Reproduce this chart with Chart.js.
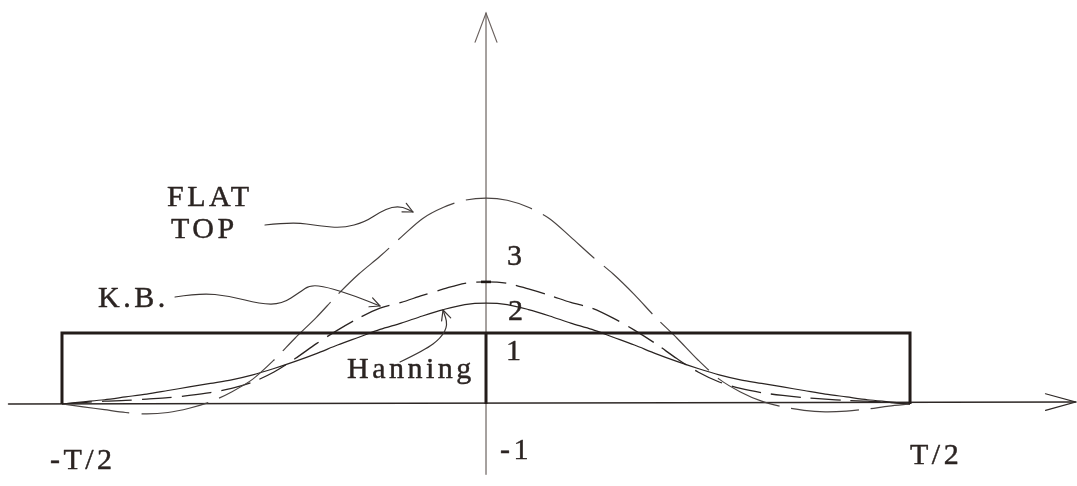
<!DOCTYPE html>
<html>
<head>
<meta charset="utf-8">
<title>Window functions</title>
<script src="https://cdn.jsdelivr.net/npm/chart.js@4"></script>
<style>
  html, body { margin: 0; padding: 0; background: #fff; }
  canvas { display: block; }
</style>
</head>
<body>
<canvas id="chart" width="1077" height="486"></canvas>
<script>
// time, in units of the window length T (window runs from -T/2 to T/2)
const tGrid = [-0.5, -0.475, -0.45, -0.425, -0.4, -0.375, -0.35, -0.325, -0.3, -0.275,
  -0.25, -0.225, -0.2, -0.175, -0.15, -0.125, -0.1, -0.075, -0.05, -0.025, 0,
  0.025, 0.05, 0.075, 0.1, 0.125, 0.15, 0.175, 0.2, 0.225, 0.25,
  0.275, 0.3, 0.325, 0.35, 0.375, 0.4, 0.425, 0.45, 0.475, 0.5];

// window amplitudes, rectangular window = 1
const flatTop = [0, -0.04, -0.08, -0.12, -0.14, -0.12, -0.06, 0.03, 0.17, 0.35,
  0.62, 0.93, 1.22, 1.54, 1.83, 2.08, 2.35, 2.61, 2.77, 2.87, 2.90,
  2.87, 2.77, 2.61, 2.35, 2.08, 1.83, 1.54, 1.22, 0.93, 0.62,
  0.35, 0.17, 0.04, -0.04, -0.09, -0.11, -0.10, -0.07, -0.03, 0];

const kaiserBessel = [0, 0.02, 0.04, 0.05, 0.07, 0.09, 0.12, 0.16, 0.22, 0.31,
  0.45, 0.64, 0.85, 1.04, 1.21, 1.35, 1.43, 1.53, 1.62, 1.70, 1.72,
  1.70, 1.62, 1.53, 1.43, 1.35, 1.21, 1.04, 0.85, 0.64, 0.45,
  0.31, 0.22, 0.16, 0.12, 0.09, 0.07, 0.05, 0.04, 0.02, 0];

const hanning = [0, 0.03, 0.06, 0.10, 0.14, 0.19, 0.24, 0.29, 0.34, 0.41,
  0.50, 0.60, 0.71, 0.83, 0.94, 1.05, 1.14, 1.24, 1.33, 1.40, 1.42,
  1.40, 1.33, 1.24, 1.14, 1.05, 0.94, 0.83, 0.71, 0.60, 0.50,
  0.41, 0.34, 0.29, 0.24, 0.19, 0.14, 0.10, 0.06, 0.03, 0];

const rectT = [-0.5, -0.5, 0.5, 0.5];
const rectV = [0, 1, 1, 0];

const edgeLabels = ['-T/2', 'T/2'];
const levelLabels = ['1', '2', '3', '-1'];
const curveNames = ['FLAT', 'TOP', 'K.B.', 'Hanning'];

const toPoints = (xs, ys) => xs.map((x, i) => ({ x: x, y: ys[i] }));

const INK = '#2b2422';
const PEN = '#3c3634';

// text anchors (t, amplitude), left edge / baseline
const textSpots = [
  { text: curveNames[0], t: -0.3762, v: 2.79 },
  { text: curveNames[1], t: -0.3715, v: 2.338 },
  { text: curveNames[2], t: -0.4575, v: 1.366 },
  { text: curveNames[3], t: -0.1639, v: 0.366 },
  { text: levelLabels[2], t: 0.0248, v: 1.958 },
  { text: levelLabels[1], t: 0.0259, v: 1.183 },
  { text: levelLabels[0], t: 0.0236, v: 0.62 },
  { text: levelLabels[3], t: 0.0165, v: -0.775 },
  { text: edgeLabels[0], t: -0.5142, v: -0.915 },
  { text: edgeLabels[1], t: 0.5, v: -0.845 }
];

// hand-drawn pointer arrows from the names to their curves
const pointers = [
  [[-0.2606, 2.521], [-0.2276, 2.563], [-0.1958, 2.507], [-0.1686, 2.479], [-0.1427, 2.563],
   [-0.125, 2.704], [-0.1108, 2.775], [-0.0979, 2.775], [-0.0861, 2.704]],
  [[-0.3667, 1.507], [-0.3373, 1.563], [-0.3019, 1.521], [-0.2665, 1.408], [-0.2406, 1.408],
   [-0.2193, 1.577], [-0.2075, 1.676], [-0.1875, 1.648], [-0.1545, 1.521], [-0.125, 1.38]],
  [[-0.1014, 0.592], [-0.0719, 0.761], [-0.0531, 0.93], [-0.0448, 1.113], [-0.0507, 1.324]]
];

function openArrow(ctx, from, tip, len, spread) {
  const a = Math.atan2(tip[1] - from[1], tip[0] - from[0]);
  ctx.beginPath();
  ctx.moveTo(tip[0] - len * Math.cos(a - spread), tip[1] - len * Math.sin(a - spread));
  ctx.lineTo(tip[0], tip[1]);
  ctx.lineTo(tip[0] - len * Math.cos(a + spread), tip[1] - len * Math.sin(a + spread));
  ctx.stroke();
}

const sketchPlugin = {
  id: 'sketch',
  beforeDatasetsDraw(chart) {
    const { ctx, scales: { x, y } } = chart;
    const x0 = x.getPixelForValue(0);
    const y0 = y.getPixelForValue(0);
    ctx.save();
    ctx.lineCap = 'round';

    // horizontal time axis with open arrow
    ctx.strokeStyle = '#2e2826';
    ctx.lineWidth = 1.6;
    const xa = x.getPixelForValue(-0.563);
    const xb = x.getPixelForValue(0.695);
    ctx.beginPath();
    ctx.moveTo(xa, y0);
    ctx.lineTo(xb, y0 - 2);
    ctx.stroke();
    ctx.lineWidth = 1.2;
    openArrow(ctx, [xa, y0], [xb, y0 - 2], 31, 0.27);

    // vertical amplitude axis with open arrow
    ctx.strokeStyle = '#6b625f';
    ctx.lineWidth = 1.2;
    const ya = y.getPixelForValue(-0.99);
    const yb = y.getPixelForValue(5.505);
    ctx.beginPath();
    ctx.moveTo(x0, ya);
    ctx.lineTo(x0, yb);
    ctx.stroke();
    openArrow(ctx, [x0, ya], [x0, yb], 31, 0.36);
    ctx.restore();
  },
  afterDatasetsDraw(chart) {
    const { ctx, scales: { x, y } } = chart;
    const px = (p) => [x.getPixelForValue(p[0]), y.getPixelForValue(p[1])];
    ctx.save();

    // small tick at the K.B. peak
    ctx.strokeStyle = '#1e1816';
    ctx.lineWidth = 2.6;
    const kb = px([0, kaiserBessel[20]]);
    ctx.beginPath();
    ctx.moveTo(kb[0] - 5, kb[1]);
    ctx.lineTo(kb[0] + 5, kb[1]);
    ctx.stroke();

    // pointer arrows
    ctx.strokeStyle = PEN;
    ctx.lineWidth = 1.2;
    ctx.lineCap = 'round';
    ctx.lineJoin = 'round';
    pointers.forEach(path => {
      const pts = path.map(px);
      ctx.beginPath();
      ctx.moveTo(pts[0][0], pts[0][1]);
      for (let i = 1; i < pts.length - 1; i++) {
        const mx = (pts[i][0] + pts[i + 1][0]) / 2;
        const my = (pts[i][1] + pts[i + 1][1]) / 2;
        ctx.quadraticCurveTo(pts[i][0], pts[i][1], mx, my);
      }
      const last = pts[pts.length - 1];
      ctx.lineTo(last[0], last[1]);
      ctx.stroke();
      openArrow(ctx, pts[pts.length - 2], last, 11, 0.45);
    });

    // labels, lightly stroked to get the heavier print look
    ctx.fillStyle = INK;
    ctx.strokeStyle = INK;
    ctx.lineWidth = 0.45;
    ctx.font = '30px "Liberation Serif", "Times New Roman", serif';
    ctx.textAlign = 'left';
    ctx.textBaseline = 'alphabetic';
    ctx.letterSpacing = '3.5px';
    textSpots.forEach(s => {
      const p = px([s.t, s.v]);
      ctx.fillText(s.text, p[0], p[1]);
      ctx.strokeText(s.text, p[0], p[1]);
    });
    ctx.restore();
  }
};

new Chart(document.getElementById('chart').getContext('2d'), {
  type: 'line',
  data: {
    datasets: [
      {
        label: 'Rectangular',
        data: toPoints(rectT, rectV),
        borderColor: '#231c1a',
        borderWidth: 3,
        tension: 0
      },
      {
        label: 'Centre',
        data: toPoints([0, 0], [0, 1]),
        borderColor: '#231c1a',
        borderWidth: 3,
        tension: 0
      },
      {
        label: 'Flat top',
        data: toPoints(tGrid, flatTop),
        borderColor: '#4a4442',
        borderWidth: 1.2,
        borderDash: [68, 12],
        tension: 0.3
      },
      {
        label: 'K.B.',
        data: toPoints(tGrid, kaiserBessel),
        borderColor: '#2a2422',
        borderWidth: 1.3,
        borderDash: [30, 10],
        tension: 0.3
      },
      {
        label: 'Hanning',
        data: toPoints(tGrid, hanning),
        borderColor: '#2a2422',
        borderWidth: 1.2,
        tension: 0.3
      }
    ]
  },
  options: {
    responsive: false,
    animation: false,
    layout: { padding: 0 },
    elements: { point: { radius: 0, hoverRadius: 0 } },
    plugins: {
      legend: { display: false },
      tooltip: { enabled: false }
    },
    scales: {
      x: { type: 'linear', display: false, min: -0.5731, max: 0.6969 },
      y: { type: 'linear', display: false, min: -1.155, max: 5.690 }
    }
  },
  plugins: [sketchPlugin]
});
</script>
</body>
</html>
